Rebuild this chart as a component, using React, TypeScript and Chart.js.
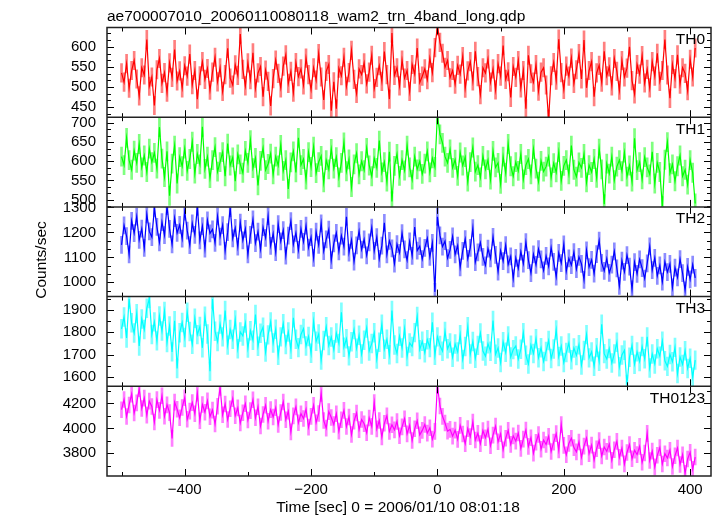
import React, { useEffect, useRef } from "react";
import { Chart, registerables } from "chart.js";
Chart.register(...registerables);

const TITLE = "ae700007010_20060110080118_wam2_trn_4band_long.qdp";
const X_TITLE = "Time [sec] 0 = 2006/01/10 08:01:18";
const Y_TITLE = "Counts/sec";

// time bins: first bin centre and bin width (s)
const T_START = -500;
const T_STEP = 4;

const TH0 = [
  535, 512, 558, 497, 541, 566, 520, 478, 548, 530, 618, 502,
  525, 454, 543, 571, 509, 536, 487, 560, 524, 593, 515, 540,
  498, 553, 527, 582, 506, 541, 470, 528, 563, 519, 546, 492,
  537, 574, 513, 548, 489, 531, 596, 522, 505, 555, 529, 632,
  544, 503, 560, 518, 585, 497, 535, 551, 476, 542, 514, 453,
  521, 567, 534, 498, 552, 580, 509, 539, 487, 561, 526, 545,
  505, 572, 531, 494, 548, 517, 583, 525, 468, 539, 556, 441,
  513, 446, 547, 528, 574, 502, 536, 591, 519, 484, 545, 531,
  560, 508, 537, 579, 496, 524, 553, 514, 588, 531, 470, 634,
  529, 548, 503, 567, 522, 541, 489, 556, 532, 597, 511, 527,
  545, 518, 572, 536, 598, 652, 611, 584, 549, 566, 523, 541,
  507, 554, 532, 576, 497, 540, 563, 515, 589, 526, 481, 548,
  535, 570, 512, 545, 493, 558, 527, 603, 519, 538, 474, 551,
  524, 566, 498, 541, 446, 579, 533, 512, 556, 490, 537, 548,
  505, 420, 528, 561, 517, 619, 536, 494, 552, 527, 572, 509,
  543, 583, 520, 617, 498, 541, 563, 476, 535, 554, 512, 589,
  528, 550, 503, 571, 539, 492, 566, 525, 547, 600, 516, 483,
  556, 532, 578, 510, 544, 498, 563, 527, 584, 514, 541, 618,
  530, 472, 556, 521, 580, 507, 548, 534, 491, 569, 525, 597,
];

const TH1 = [
  612, 590, 661, 603, 578, 628, 596, 645, 584, 615, 572, 633,
  598, 622, 581, 689, 607, 559, 626, 510, 594, 641, 542, 611,
  587, 633, 575, 606, 651, 568, 619, 592, 690, 580, 612, 556,
  603, 637, 573, 598, 624, 561, 646, 589, 610, 548, 618, 592,
  570, 627, 596, 655, 582, 609, 537, 601, 635, 577, 593, 620,
  566, 612, 589, 643, 575, 603, 528, 597, 626, 571, 661, 590,
  606, 552, 624, 585, 638, 569, 598, 614, 545, 603, 579, 632,
  581, 611, 558, 596, 649, 574, 605, 533, 592, 621, 566, 600,
  577, 635, 589, 561, 608, 583, 654, 571, 598, 547, 625, 495,
  588, 619, 562, 603, 576, 641, 584, 552, 612, 579, 600, 567,
  594, 626, 571, 608, 585, 722, 670, 648, 612, 596, 631, 583,
  604, 562, 623, 589, 611, 547, 598, 636, 573, 590, 558, 614,
  579, 603, 552, 627, 584, 596, 541, 612, 570, 645, 587, 561,
  598, 575, 619, 553, 590, 606, 566, 632, 581, 547, 601, 573,
  586, 612, 558, 595, 571, 624, 549, 588, 603, 566, 641, 578,
  560, 597, 583, 619, 545, 590, 572, 606, 557, 633, 579, 488,
  594, 568, 612, 551, 586, 603, 574, 623, 560, 589, 547, 660,
  577, 598, 553, 611, 584, 566, 625, 542, 596, 572, 483, 604,
  650, 569, 592, 548, 587, 615, 561, 578, 539, 603, 570, 490,
];

const TH2 = [
  1150, 1228, 1185, 1112, 1246, 1197, 1263, 1170, 1215, 1138, 1272, 1204,
  1181, 1296, 1222, 1160, 1241, 1189, 1305, 1214, 1152, 1257, 1198, 1230,
  1175, 1283, 1207, 1149, 1236, 1190, 1302, 1168, 1225, 1135, 1248, 1196,
  1212, 1158, 1264, 1183, 1229, 1126, 1201, 1297, 1176, 1218, 1143, 1239,
  1168, 1214, 1112, 1190, 1252, 1157, 1203, 1132, 1221, 1178, 1265, 1146,
  1195, 1121, 1233, 1164, 1209, 1107, 1187, 1245, 1152, 1198, 1130, 1214,
  1162, 1227, 1139, 1181, 1098, 1203, 1150, 1236, 1125, 1172, 1211, 1089,
  1156, 1198, 1124, 1187, 1143, 1262, 1119, 1170, 1083, 1148, 1205, 1131,
  1172, 1108, 1160, 1219, 1126, 1181, 1094, 1147, 1238, 1112, 1166, 1136,
  1075, 1153, 1118, 1197, 1132, 1089, 1164, 1106, 1221, 1127, 1145, 1093,
  1138, 1176, 1102, 1158, 962, 1262, 1188, 1143, 1165, 1097, 1130, 1184,
  1112, 1147, 1060, 1126, 1173, 1094, 1138, 1217, 1081, 1120, 1159, 1102,
  1068, 1135, 1096, 1182, 1110, 1043, 1127, 1085, 1149, 1072, 1104, 1016,
  1098, 1056, 1123, 1075, 1161, 1089, 1037, 1112, 1070, 1133, 1092, 1048,
  1106, 1064, 1139, 1082, 1023, 1118, 1077, 1152, 1045, 1096, 1069, 1121,
  1053, 1102, 1074, 1010, 1128, 1061, 1090, 1035, 1113, 1167, 1078, 1046,
  1095, 1038, 1071, 1124, 1056, 986, 1087, 1042, 1109, 1063, 972, 1081,
  1034, 1092, 1057, 1015, 1076, 1144, 1049, 1098, 1026, 1068, 1003, 1082,
  1041, 1074, 980, 1059, 1020, 1093, 1037, 968, 1062, 1012, 1071, 1018,
];

const TH3 = [
  1815, 1868, 1774, 1948, 1842, 1796, 1883, 1738, 1859, 1812, 1907, 1950,
  1790, 1846, 1761, 1872, 1805, 1893, 1754, 1828, 1712, 1851, 1638, 1797,
  1843, 1776, 1889, 1803, 1746, 1862, 1789, 1825, 1730, 1871, 1792, 1625,
  1948, 1804, 1758, 1836, 1779, 1897, 1742, 1812, 1768, 1855, 1726, 1801,
  1783, 1841, 1729, 1806, 1764, 1879, 1737, 1795, 1822, 1711, 1788, 1846,
  1752, 1813, 1697, 1779, 1838, 1745, 1801, 1723, 1864, 1768, 1731, 1790,
  1816, 1738, 1781, 1706, 1847, 1759, 1792, 1675, 1763, 1824, 1740, 1778,
  1721, 1796, 1750, 1889, 1733, 1771, 1694, 1757, 1812, 1728, 1786, 1702,
  1764, 1819, 1716, 1749, 1797, 1680, 1755, 1835, 1724, 1768, 1699, 1897,
  1743, 1705, 1782, 1729, 1815, 1691, 1752, 1736, 1798, 1870, 1722, 1759,
  1708, 1766, 1731, 1844, 1697, 1779, 1740, 1715, 1803, 1726, 1752, 1688,
  1747, 1712, 1789, 1678, 1736, 1824, 1702, 1758, 1683, 1741, 1796, 1716,
  1693, 1748, 1715, 1852, 1701, 1729, 1664, 1757, 1710, 1783, 1689, 1722,
  1738, 1680, 1724, 1797, 1697, 1658, 1742, 1705, 1771, 1686, 1730, 1669,
  1714, 1763, 1682, 1725, 1810, 1691, 1738, 1664, 1709, 1752, 1677, 1729,
  1696, 1744, 1653, 1718, 1789, 1685, 1712, 1648, 1731, 1670, 1835, 1704,
  1680, 1727, 1662, 1703, 1755, 1645, 1698, 1719, 1566, 1688, 1741, 1657,
  1712, 1669, 1736, 1681, 1779, 1640, 1702, 1658, 1726, 1693, 1760, 1672,
  1647, 1700, 1668, 1732, 1615, 1689, 1656, 1717, 1638, 1683, 1599, 1675,
];

const TH0123 = [
  4150, 4232, 4096, 4188, 4275, 4124, 4205, 4318, 4160, 4243, 4107, 4219,
  4176, 4052, 4231, 4145, 4262, 4098, 4189, 4127, 3920, 4211, 4154, 4085,
  4168, 4246, 4073, 4139, 4207, 4118, 4283, 4062, 4192, 4130, 4221, 4094,
  4147, 4035, 4178, 4329, 4110, 4196, 4071, 4158, 4239, 4102, 4165, 4043,
  4126, 4198, 4067, 4143, 4230, 4085, 4174, 4019, 4112, 4186, 4058, 4151,
  4092, 4167, 4031, 4128, 4212, 4070, 4139, 3972, 4101, 4173, 4045, 4118,
  4079, 4154, 4010, 4097, 4186, 4046, 4120, 4281, 4063, 4002, 4135, 4087,
  4031, 4118, 3978, 4069, 4145, 4015, 4092, 3951, 4058, 4124, 3990, 4071,
  4037, 3965, 4084, 4016, 4207, 3996, 4063, 3932, 4041, 4101, 3975, 4029,
  3988, 4056, 3941, 4012, 4078, 3956, 4025, 3903, 3997, 4062, 3948, 3984,
  4031, 3962, 4005, 3914, 3976, 4345, 4180, 4097, 4043, 3978, 3992, 3938,
  3986, 3912, 4024, 3955, 3877, 3998, 3934, 4052, 3907, 3961, 3878, 3983,
  3925, 3994, 3861, 3946, 4018, 3893, 3957, 3828, 3921, 3984, 3872, 3940,
  3898, 3963, 3840, 3914, 3987, 3856, 3925, 3802, 3889, 3951, 3833, 3907,
  3871, 3936, 3815, 3890, 3958, 3827, 4030, 3864, 3789, 3880, 3921, 3846,
  3812, 3891, 3770, 3858, 3923, 3798, 3866, 3745, 3837, 3902, 3779, 3851,
  3816, 3874, 3743, 3829, 3896, 3768, 3842, 3715, 3807, 3871, 3756, 3825,
  3790, 3856, 3728, 3803, 3960, 3742, 3818, 3691, 3784, 3846, 3714, 3797,
  3762, 3825, 3694, 3781, 3843, 3710, 3789, 3640, 3755, 3808, 3672, 3770,
];

const SERIES = [TH0, TH1, TH2, TH3, TH0123];
// typical 1-sigma error half-width per band (counts/sec)
const ERRORS = [23, 25, 34, 42, 64];
const PANEL_LABELS = ["TH0", "TH1", "TH2", "TH3", "TH0123"];
const COLORS = ["#ff0000", "#00ff00", "#0000ff", "#00ffff", "#ff00ff"];
const ERR_COLORS = [
  "rgba(255,0,0,0.5)",
  "rgba(0,255,0,0.5)",
  "rgba(0,0,255,0.45)",
  "rgba(0,255,255,0.5)",
  "rgba(255,0,255,0.5)",
];

const Y_MIN = [425, 481, 943, 1558, 3618];
const Y_MAX = [648, 715, 1302, 1959, 4338];
const Y_TICKS = [
  [450, 500, 550, 600],
  [500, 550, 600, 650, 700],
  [1000, 1100, 1200, 1300],
  [1600, 1700, 1800, 1900],
  [3800, 4000, 4200],
];
const Y_MINOR_DIV = [3, 3, 3, 2, 2];

const X_MIN = -523;
const X_MAX = 433;
const X_TICKS = [-400, -200, 0, 200, 400];
const X_TICK_LABELS = ["\u2212400", "\u2212200", "0", "200", "400"];
const X_MINOR_TICKS = [-500, -300, -100, 100, 300];

const FONT_FAMILY = "'Liberation Sans', Arial, Helvetica, sans-serif";

const qdpPlugin = {
  id: "qdpFrame",
  beforeDatasetDraw(chart: any, args: any) {
    const ys = args.meta.yScale;
    const a = chart.chartArea;
    const ctx = chart.ctx;
    ctx.save();
    ctx.beginPath();
    ctx.rect(a.left, ys.top, a.right - a.left, ys.bottom - ys.top);
    ctx.clip();
  },
  afterDatasetDraw(chart: any) {
    chart.ctx.restore();
  },
  afterDraw(chart: any) {
    const ctx = chart.ctx;
    const a = chart.chartArea;
    const xs = chart.scales.x;
    ctx.save();
    ctx.strokeStyle = "#000";
    ctx.lineWidth = 1;
    for (let i = 0; i < SERIES.length; i++) {
      const s = chart.scales["y" + i];
      const majors = Y_TICKS[i];
      const majorStep = majors[1] - majors[0];
      const n = Y_MINOR_DIV[i];
      const minor = majorStep / n;
      for (let k = -3 * n; k < 20 * n; k++) {
        const v = majors[0] + k * minor;
        if (v < Y_MIN[i] || v > Y_MAX[i]) continue;
        const len = k % n === 0 ? 7 : 4;
        const py = Math.round(s.getPixelForValue(v)) + 0.5;
        ctx.beginPath();
        ctx.moveTo(a.left, py);
        ctx.lineTo(a.left + len, py);
        ctx.moveTo(a.right, py);
        ctx.lineTo(a.right - len, py);
        ctx.stroke();
      }
      const drawX = (v: number, len: number) => {
        const px = Math.round(xs.getPixelForValue(v)) + 0.5;
        ctx.beginPath();
        ctx.moveTo(px, s.top);
        ctx.lineTo(px, s.top + len);
        ctx.moveTo(px, s.bottom);
        ctx.lineTo(px, s.bottom - len);
        ctx.stroke();
      };
      X_TICKS.forEach((v) => drawX(v, 7));
      X_MINOR_TICKS.forEach((v) => drawX(v, 4));
    }
    ctx.strokeStyle = "#222";
    ctx.lineWidth = 1.5;
    ctx.strokeRect(a.left, a.top, a.right - a.left, a.bottom - a.top);
    for (let i = 0; i < SERIES.length - 1; i++) {
      const s = chart.scales["y" + i];
      ctx.beginPath();
      ctx.moveTo(a.left, s.bottom);
      ctx.lineTo(a.right, s.bottom);
      ctx.stroke();
    }
    ctx.fillStyle = "#000";
    ctx.font = "15.5px " + FONT_FAMILY;
    ctx.textBaseline = "alphabetic";
    ctx.textAlign = "left";
    ctx.fillText(TITLE, a.left, 20.5);
    ctx.textAlign = "right";
    for (let i = 0; i < SERIES.length; i++) {
      const s = chart.scales["y" + i];
      ctx.fillText(PANEL_LABELS[i], 705, s.top + 16.3);
    }
    ctx.textAlign = "center";
    ctx.fillText(X_TITLE, 398, 512);
    ctx.save();
    ctx.translate(45.5, 260);
    ctx.rotate(-Math.PI / 2);
    ctx.textAlign = "center";
    ctx.textBaseline = "alphabetic";
    ctx.fillText(Y_TITLE, 0, 0);
    ctx.restore();
    ctx.restore();
  },
};

export default function App() {
  const ref = useRef<HTMLCanvasElement | null>(null);
  useEffect(() => {
    if (!ref.current) return;
    const datasets: any[] = [];
    SERIES.forEach((data, i) => {
      const pts = data.map((v, k) => ({ x: T_START + k * T_STEP, y: v }));
      const bars = data.map((v, k) => ({
        x: T_START + k * T_STEP,
        y: [v - ERRORS[i], v + ERRORS[i]],
      }));
      datasets.push({
        type: "line",
        data: pts,
        yAxisID: "y" + i,
        xAxisID: "x",
        borderColor: COLORS[i],
        borderWidth: 1.2,
        pointRadius: 0,
        tension: 0,
        fill: false,
      });
      datasets.push({
        type: "bar",
        data: bars,
        yAxisID: "y" + i,
        xAxisID: "x",
        backgroundColor: ERR_COLORS[i],
        borderWidth: 0,
        barThickness: 2,
        grouped: false,
      });
    });

    const scales: any = {
      x: {
        type: "linear",
        position: "bottom",
        min: X_MIN,
        max: X_MAX,
        offset: false,
        grid: { display: false, drawTicks: false, offset: false },
        border: { display: false },
        afterBuildTicks: (s: any) => {
          s.ticks = X_TICKS.map((v) => ({ value: v }));
        },
        ticks: {
          autoSkip: false,
          maxRotation: 0,
          padding: 5,
          color: "#000",
          font: { family: FONT_FAMILY, size: 15 },
          callback: (_v: any, idx: number) => X_TICK_LABELS[idx],
        },
        afterFit: (s: any) => {
          s.height = 40;
        },
      },
    };
    // later-defined stacked axes are placed higher, so define bottom panel first
    for (let i = SERIES.length - 1; i >= 0; i--) {
      scales["y" + i] = {
        type: "linear",
        position: "left",
        stack: "panels",
        stackWeight: 1,
        min: Y_MIN[i],
        max: Y_MAX[i],
        beginAtZero: false,
        grid: { display: false, drawTicks: false },
        border: { display: false },
        afterBuildTicks: (s: any) => {
          s.ticks = Y_TICKS[i].map((v) => ({ value: v }));
        },
        ticks: {
          autoSkip: false,
          padding: 11,
          color: "#000",
          font: { family: FONT_FAMILY, size: 15 },
          callback: (v: any) => String(v),
        },
        afterFit: (s: any) => {
          s.width = 107;
        },
      };
    }

    const chart = new Chart(ref.current, {
      type: "line",
      data: { datasets },
      options: {
        responsive: false,
        animation: false,
        devicePixelRatio: 1,
        events: [],
        layout: { padding: { left: 0, right: 6, top: 27.5, bottom: 0 } },
        plugins: {
          legend: { display: false },
          tooltip: { enabled: false },
          title: { display: false },
        },
        scales,
      } as any,
      plugins: [qdpPlugin as any],
    });
    return () => chart.destroy();
  }, []);

  return (
    <canvas
      ref={ref}
      width={717}
      height={516}
      style={{ position: "fixed", left: 0, top: 0, width: 717, height: 516, background: "#fff" }}
    />
  );
}
